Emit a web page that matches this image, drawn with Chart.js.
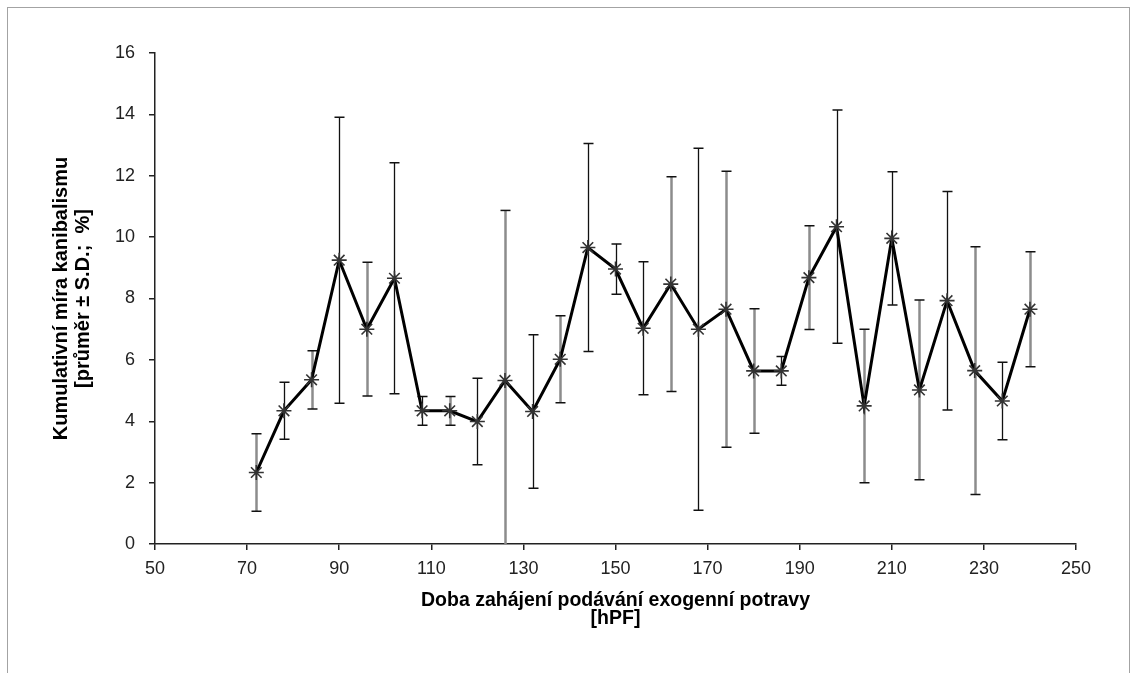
<!DOCTYPE html>
<html>
<head>
<meta charset="utf-8">
<script src="https://cdn.jsdelivr.net/npm/chart.js@4.4.1/dist/chart.umd.min.js"></script>
<style>
  html, body { margin: 0; padding: 0; background: #fff; }
  #wrap { position: relative; width: 1137px; height: 673px; overflow: hidden; background: #fff; }
  #frame { position: absolute; left: 7px; top: 7px; width: 1123px; height: 700px; border: 1px solid #a3a3a3; box-sizing: border-box; }
  #c { position: absolute; left: 0; top: 0; }
</style>
</head>
<body>
<div id="wrap">
  <div id="frame"></div>
  <canvas id="c" width="1137" height="673"></canvas>
</div>
<script>
// ---- data ----
const hours = [72, 78, 84, 90, 96, 102, 108, 114, 120, 126, 132, 138, 144, 150, 156, 162, 168, 174, 180, 186, 192, 198, 204, 210, 216, 222, 228, 234, 240];
const meanRate = [2.33, 4.34, 5.35, 9.25, 7.00, 8.66, 4.34, 4.34, 3.99, 5.33, 4.32, 6.02, 9.66, 8.96, 7.03, 8.47, 7.00, 7.65, 5.64, 5.64, 8.68, 10.34, 4.50, 9.96, 5.02, 7.93, 5.65, 4.66, 7.65];
const sdRate = [1.26, 0.93, 0.95, 4.66, 2.18, 3.76, 0.47, 0.47, 1.41, 5.54, 2.50, 1.42, 3.39, 0.82, 2.17, 3.50, 5.90, 4.50, 2.03, 0.47, 1.69, 3.80, 2.50, 2.17, 2.93, 3.56, 4.04, 1.26, 1.87];
const xTicks = [50, 70, 90, 110, 130, 150, 170, 190, 210, 230, 250];
const yTicks = [0, 2, 4, 6, 8, 10, 12, 14, 16];
const xTitle = ['Doba zahájení podávání exogenní potravy', '[hPF]'];
const yTitle = ['Kumulativní míra kanibalismu', '[průměr ± S.D.;  %]'];

// ---- styling (kept apart from the data) ----
const greyBar = [true, false, true, false, true, false, false, true, false, true, false, true, false, false, false, true, false, true, true, false, true, false, true, false, true, false, true, false, true];

const points = hours.map((h, i) => ({ x: h, y: meanRate[i] }));

const errorBars = {
  id: 'errorBars',
  beforeDatasetsDraw(chart) {
    const { ctx, chartArea, scales: { x, y } } = chart;
    ctx.save();
    ctx.beginPath();
    ctx.rect(chartArea.left, chartArea.top - 20, chartArea.right - chartArea.left, chartArea.bottom - chartArea.top + 20);
    ctx.clip();
    hours.forEach((h, i) => {
      const px = Math.round(x.getPixelForValue(h)) + 0.5;
      const top = y.getPixelForValue(meanRate[i] + sdRate[i]);
      const bot = y.getPixelForValue(Math.max(meanRate[i] - sdRate[i], y.min));
      ctx.beginPath();
      ctx.strokeStyle = greyBar[i] ? '#8c8c8c' : '#111';
      ctx.lineWidth = greyBar[i] ? 2.5 : 1.3;
      ctx.moveTo(px, top);
      ctx.lineTo(px, bot);
      ctx.stroke();
      ctx.beginPath();
      ctx.strokeStyle = '#111';
      ctx.lineWidth = 1.5;
      ctx.moveTo(px - 5, top); ctx.lineTo(px + 5, top);
      if (meanRate[i] - sdRate[i] >= y.min) {
        ctx.moveTo(px - 5, bot); ctx.lineTo(px + 5, bot);
      }
      ctx.stroke();
    });
    ctx.restore();
  }
};

new Chart(document.getElementById('c'), {
  type: 'scatter',
  data: {
    datasets: [{
      data: points,
      showLine: true,
      borderColor: '#000',
      borderWidth: 3,
      tension: 0,
      pointStyle: 'star',
      pointRadius: 7.5,
      pointBorderColor: '#333',
      pointBorderWidth: 1.6,
      pointBackgroundColor: 'transparent'
    }]
  },
  options: {
    responsive: false,
    animation: false,
    devicePixelRatio: 1,
    layout: { padding: { top: 53, right: 61, left: 0, bottom: 0 } },
    plugins: { legend: { display: false }, tooltip: { enabled: false } },
    scales: {
      x: {
        type: 'linear',
        min: 50, max: 250,
        afterBuildTicks(scale) { scale.ticks = xTicks.map(v => ({ value: v })); },
        afterFit(scale) { scale.height = 129; },
        border: { display: true, color: '#222', width: 1.5 },
        grid: { drawOnChartArea: false, drawTicks: true, tickLength: 6, color: '#222', lineWidth: 1.5 },
        ticks: { color: '#222', padding: 8, font: { family: 'Liberation Sans, Arial, sans-serif', size: 18 }, maxRotation: 0, autoSkip: false },
        title: { display: true, text: xTitle, color: '#000', padding: { top: 0, bottom: 45 }, font: { family: 'Liberation Sans, Arial, sans-serif', size: 19.5, weight: 'bold', lineHeight: 0.92 } }
      },
      y: {
        type: 'linear',
        min: 0, max: 16,
        afterBuildTicks(scale) { scale.ticks = yTicks.map(v => ({ value: v })); },
        afterFit(scale) { scale.width = 155; },
        border: { display: true, color: '#222', width: 1.5 },
        grid: { drawOnChartArea: false, drawTicks: true, tickLength: 6, color: '#222', lineWidth: 1.5 },
        ticks: { color: '#222', padding: 14, font: { family: 'Liberation Sans, Arial, sans-serif', size: 18 } },
        title: { display: true, text: yTitle, color: '#000', padding: { top: 51, bottom: 0 }, font: { family: 'Liberation Sans, Arial, sans-serif', size: 20, weight: 'bold', lineHeight: 1.07 } }
      }
    }
  },
  plugins: [errorBars]
});
</script>
</body>
</html>
